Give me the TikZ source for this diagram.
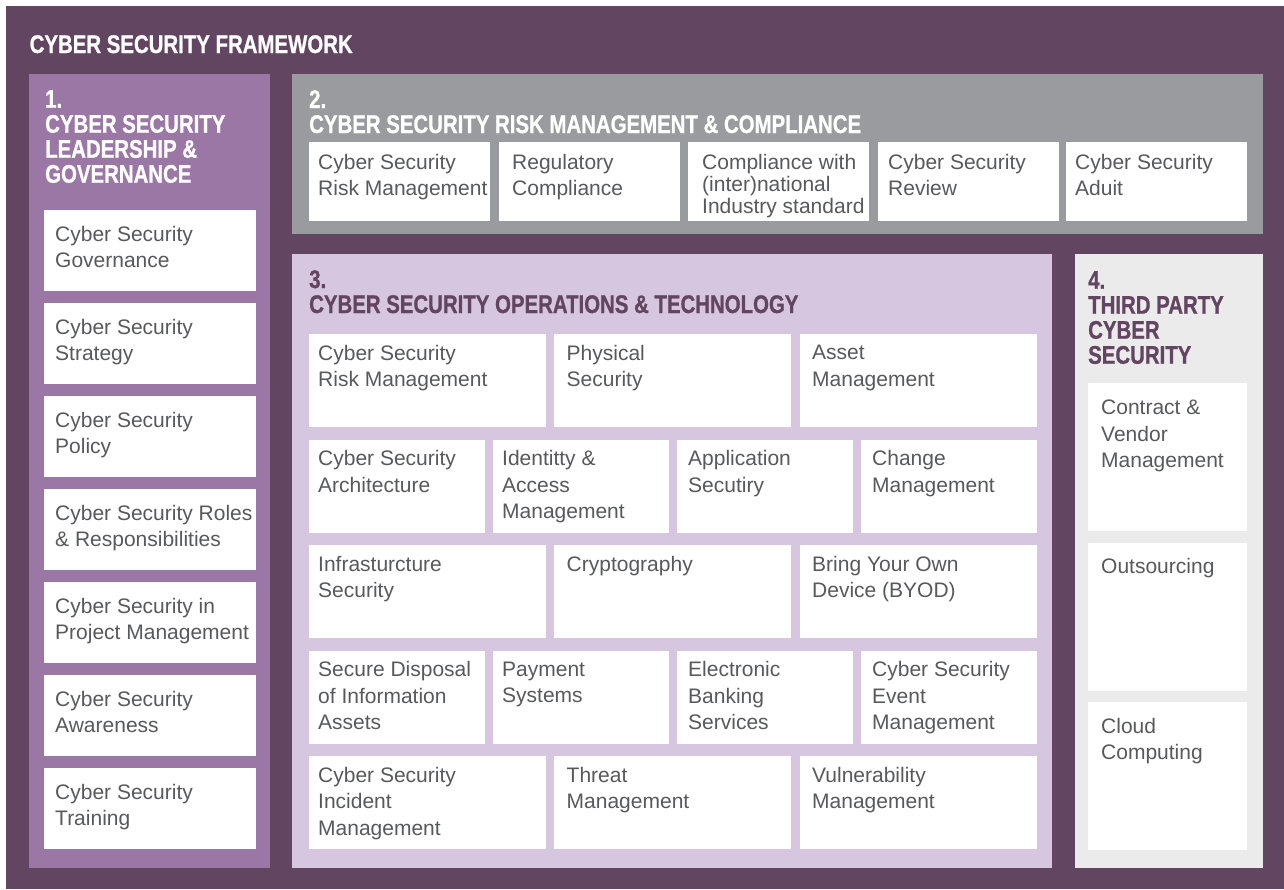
\documentclass[tikz,border=0pt]{standalone}
\usepackage{fontspec}
\setmainfont{Liberation Sans}
\newfontfamily\headfont[FakeStretch=0.8,FakeBold=0.8]{Liberation Sans}
\definecolor{csfdark}{HTML}{624560}
\definecolor{csflead}{HTML}{9B77A6}
\definecolor{csfrisk}{HTML}{9A9B9F}
\definecolor{csfops}{HTML}{D7C6E0}
\definecolor{csfthird}{HTML}{EBEBEB}
\definecolor{csftext}{HTML}{58595B}
\tikzstyle{panel}=[anchor=north west, inner sep=0pt, outer sep=0pt]
\tikzstyle{heading}=[anchor=north west, inner sep=0pt, align=left,
  font=\headfont\bfseries\fontsize{25.5}{25}\selectfont]
\tikzstyle{tile}=[anchor=north west, fill=white, inner sep=0pt, outer sep=0pt]
\tikzstyle{tiletext}=[anchor=north west, inner sep=0pt, align=left,
  text=csftext, font=\fontsize{21}{26.5}\selectfont]
% white box with its text: name, width, height, text offset, text
\newcommand{\tile}[5]{node (#1) [tile, minimum width=#2pt,
  minimum height=#3pt] {} +#4 node (#1t) [tiletext] {#5}}

\begin{document}
\begin{tikzpicture}[x=1pt,y=-1pt]
  \path[use as bounding box, fill=white] (0,0) rectangle (1284,889);

  % Draw the frame and the four panels
  \path (6,6) node (frame) [panel, fill=csfdark, minimum width=1278pt,
    minimum height=883pt] {};
  \path (frame.north west)+(23.5,29) node (title) [heading, text=white]
    {CYBER SECURITY FRAMEWORK};

  \path (29,74) node (p1) [panel, fill=csflead, minimum width=241pt,
    minimum height=794pt] {};
  \path (292,74) node (p2) [panel, fill=csfrisk, minimum width=971pt,
    minimum height=160pt] {};
  \path (292,254) node (p3) [panel, fill=csfops, minimum width=760pt,
    minimum height=614pt] {};
  \path (1075,254) node (p4) [panel, fill=csfthird, minimum width=188pt,
    minimum height=614pt] {};

  \path (p1.north west)+(16,16) node (h1) [heading, text=white]
    {1.\\CYBER SECURITY\\LEADERSHIP \&\\GOVERNANCE};
  \path (p2.north west)+(17,16) node (h2) [heading, text=white]
    {2.\\CYBER SECURITY RISK MANAGEMENT \& COMPLIANCE};
  \path (p3.north west)+(17,16) node (h3) [heading, text=csfdark]
    {3.\\CYBER SECURITY OPERATIONS \& TECHNOLOGY};
  \path (p4.north west)+(13,17) node (h4) [heading, text=csfdark]
    {4.\\THIRD PARTY\\CYBER\\SECURITY};

  % 1. leadership & governance
  \path (44,210) \tile{l1}{212}{81}{(11,16)}{Cyber Security\\Governance};
  \path (44,303) \tile{l2}{212}{81}{(11,16)}{Cyber Security\\Strategy};
  \path (44,396) \tile{l3}{212}{81}{(11,16)}{Cyber Security\\Policy};
  \path (44,489) \tile{l4}{212}{81}{(11,16)}{Cyber Security Roles\\\& Responsibilities};
  \path (44,582) \tile{l5}{212}{81}{(11,16)}{Cyber Security in\\Project Management};
  \path (44,675) \tile{l6}{212}{81}{(11,16)}{Cyber Security\\Awareness};
  \path (44,768) \tile{l7}{212}{81}{(11,16)}{Cyber Security\\Training};

  % 2. risk management & compliance
  \path (309,142) \tile{r1}{181}{79}{(9,12)}{Cyber Security\\Risk Management};
  \path (498.5,142) \tile{r2}{181}{79}{(13.5,12)}{Regulatory\\Compliance};
  \path (688,142) node (r3) [tile, minimum width=181pt, minimum height=79pt] {}
    +(14,12) node (r3t) [tiletext, font=\fontsize{21}{22}\selectfont]
    {Compliance with\\(inter)national\\Industry standard};
  \path (877.5,142) \tile{r4}{181}{79}{(10.5,12)}{Cyber Security\\Review};
  \path (1066,142) \tile{r5}{181}{79}{(9,12)}{Cyber Security\\Aduit};

  % 3. operations & technology
  \path (309,334) \tile{o11}{237}{93}{(9,11)}{Cyber Security\\Risk Management};
  \path (554,334) \tile{o12}{237}{93}{(12.5,11)}{Physical\\Security};
  \path (800,334) \tile{o13}{237}{93}{(12,11)}{Asset\\Management};

  \path (309,439.5) \tile{o21}{176}{93}{(9,11)}{Cyber Security\\Architecture};
  \path (493,439.5) \tile{o22}{176}{93}{(9,11)}{Identitty \&\\Access\\Management};
  \path (677,439.5) \tile{o23}{176}{93}{(11,11)}{Application\\Secutiry};
  \path (861,439.5) \tile{o24}{176}{93}{(11,11)}{Change\\Management};

  \path (309,545) \tile{o31}{237}{93}{(9,11)}{Infrasturcture\\Security};
  \path (554,545) \tile{o32}{237}{93}{(12.5,11)}{Cryptography};
  \path (800,545) \tile{o33}{237}{93}{(12,11)}{Bring Your Own\\Device (BYOD)};

  \path (309,650.5) \tile{o41}{176}{93}{(9,11)}{Secure Disposal\\of Information\\Assets};
  \path (493,650.5) \tile{o42}{176}{93}{(9,11)}{Payment\\Systems};
  \path (677,650.5) \tile{o43}{176}{93}{(11,11)}{Electronic\\Banking\\Services};
  \path (861,650.5) \tile{o44}{176}{93}{(11,11)}{Cyber Security\\Event\\Management};

  \path (309,756) \tile{o51}{237}{93}{(9,11)}{Cyber Security\\Incident\\Management};
  \path (554,756) \tile{o52}{237}{93}{(12.5,11)}{Threat\\Management};
  \path (800,756) \tile{o53}{237}{93}{(12,11)}{Vulnerability\\Management};

  % 4. third party
  \path (1088,383) \tile{t1}{159}{148}{(13,17)}{Contract \&\\Vendor\\Management};
  \path (1088,542.5) \tile{t2}{159}{148}{(13,16)}{Outsourcing};
  \path (1088,702) \tile{t3}{159}{148}{(13,16)}{Cloud\\Computing};
\end{tikzpicture}
\end{document}
